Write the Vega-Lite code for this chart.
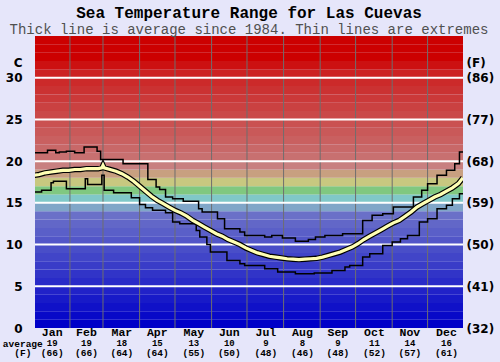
{
  "$schema": "https://vega.github.io/schema/vega-lite/v6.json",
  "autosize": "none",
  "width": 428,
  "height": 292,
  "padding": {"left": 35, "top": 36, "right": 37, "bottom": 34},
  "background": "#e6e6fa",
  "title": {
    "text": "Sea Temperature Range for Las Cuevas",
    "subtitle": "Thick line is average since 1984. Thin lines are extremes",
    "font": "Liberation Mono", "fontSize": 16, "fontWeight": "bold", "color": "#000000",
    "subtitleFont": "Liberation Mono", "subtitleFontSize": 14, "subtitleColor": "#505050",
    "anchor": "middle", "offset": -1, "subtitlePadding": 2
  },
  "config": {"view": {"stroke": null}},
  "resolve": {"axis": {"y": "independent"}},
  "datasets": {
    "bands": [
      {"lo": 0, "hi": 1}, {"lo": 1, "hi": 2}, {"lo": 2, "hi": 3}, {"lo": 3, "hi": 4}, {"lo": 4, "hi": 5},
      {"lo": 5, "hi": 6}, {"lo": 6, "hi": 7}, {"lo": 7, "hi": 8}, {"lo": 8, "hi": 9}, {"lo": 9, "hi": 10},
      {"lo": 10, "hi": 11}, {"lo": 11, "hi": 12}, {"lo": 12, "hi": 13}, {"lo": 13, "hi": 14}, {"lo": 14, "hi": 15},
      {"lo": 15, "hi": 16}, {"lo": 16, "hi": 17}, {"lo": 17, "hi": 18}, {"lo": 18, "hi": 19}, {"lo": 19, "hi": 20},
      {"lo": 20, "hi": 21}, {"lo": 21, "hi": 22}, {"lo": 22, "hi": 23}, {"lo": 23, "hi": 24}, {"lo": 24, "hi": 25},
      {"lo": 25, "hi": 26}, {"lo": 26, "hi": 27}, {"lo": 27, "hi": 28}, {"lo": 28, "hi": 29}, {"lo": 29, "hi": 30},
      {"lo": 30, "hi": 31}, {"lo": 31, "hi": 32}, {"lo": 32, "hi": 33}, {"lo": 33, "hi": 34}, {"lo": 34, "hi": 35}
    ],
    "hgrid": [{"t": 5}, {"t": 10}, {"t": 15}, {"t": 20}, {"t": 25}, {"t": 30}],
    "vgrid": [{"d": 31}, {"d": 59}, {"d": 90}, {"d": 120}, {"d": 151}, {"d": 181}, {"d": 212}, {"d": 243}, {"d": 273}, {"d": 304}, {"d": 334}],
    "avg": [
      {"d": 1, "t": 18.3}, {"d": 5, "t": 18.4}, {"d": 10, "t": 18.6}, {"d": 15, "t": 18.7}, {"d": 20, "t": 18.8},
      {"d": 25, "t": 18.9}, {"d": 30, "t": 18.9}, {"d": 35, "t": 19.0}, {"d": 40, "t": 19.0}, {"d": 45, "t": 19.1},
      {"d": 50, "t": 19.1}, {"d": 55, "t": 19.1}, {"d": 58, "t": 19.2}, {"d": 59, "t": 19.5}, {"d": 60, "t": 19.2},
      {"d": 65, "t": 19.0}, {"d": 70, "t": 18.8}, {"d": 75, "t": 18.5}, {"d": 80, "t": 18.1}, {"d": 85, "t": 17.6},
      {"d": 90, "t": 17.0}, {"d": 95, "t": 16.4}, {"d": 100, "t": 15.8}, {"d": 105, "t": 15.3}, {"d": 110, "t": 14.9},
      {"d": 115, "t": 14.5}, {"d": 120, "t": 14.1}, {"d": 125, "t": 13.8}, {"d": 130, "t": 13.4}, {"d": 135, "t": 12.9},
      {"d": 140, "t": 12.5}, {"d": 145, "t": 12.1}, {"d": 150, "t": 11.7}, {"d": 155, "t": 11.3}, {"d": 160, "t": 11.0},
      {"d": 165, "t": 10.6}, {"d": 170, "t": 10.3}, {"d": 175, "t": 10.0}, {"d": 180, "t": 9.6}, {"d": 185, "t": 9.3},
      {"d": 190, "t": 9.0}, {"d": 195, "t": 8.8}, {"d": 200, "t": 8.6}, {"d": 205, "t": 8.5}, {"d": 210, "t": 8.4},
      {"d": 215, "t": 8.3}, {"d": 220, "t": 8.25}, {"d": 225, "t": 8.2}, {"d": 230, "t": 8.25}, {"d": 235, "t": 8.3},
      {"d": 240, "t": 8.35}, {"d": 245, "t": 8.5}, {"d": 250, "t": 8.7}, {"d": 255, "t": 8.9}, {"d": 260, "t": 9.1},
      {"d": 265, "t": 9.4}, {"d": 270, "t": 9.7}, {"d": 275, "t": 10.1}, {"d": 280, "t": 10.6}, {"d": 285, "t": 11.0},
      {"d": 290, "t": 11.4}, {"d": 295, "t": 11.8}, {"d": 300, "t": 12.2}, {"d": 305, "t": 12.6}, {"d": 310, "t": 12.9},
      {"d": 315, "t": 13.4}, {"d": 320, "t": 13.9}, {"d": 325, "t": 14.5}, {"d": 330, "t": 14.9}, {"d": 335, "t": 15.3},
      {"d": 340, "t": 15.7}, {"d": 345, "t": 16.0}, {"d": 350, "t": 16.4}, {"d": 355, "t": 16.8}, {"d": 360, "t": 17.3},
      {"d": 364, "t": 18.0}
    ],
    "max": [
      {"d": 1, "t": 21.0}, {"d": 12, "t": 21.3}, {"d": 19, "t": 21.0}, {"d": 22, "t": 21.1}, {"d": 28, "t": 21.2},
      {"d": 35, "t": 21.0}, {"d": 43, "t": 21.7}, {"d": 54, "t": 21.2}, {"d": 57, "t": 20.2}, {"d": 76, "t": 19.7},
      {"d": 97, "t": 17.8}, {"d": 104, "t": 16.9}, {"d": 107, "t": 16.6}, {"d": 112, "t": 15.7}, {"d": 118, "t": 15.5},
      {"d": 127, "t": 15.2}, {"d": 140, "t": 14.3}, {"d": 143, "t": 13.9}, {"d": 156, "t": 13.1}, {"d": 162, "t": 11.9},
      {"d": 175, "t": 11.5}, {"d": 179, "t": 11.1}, {"d": 196, "t": 10.9}, {"d": 202, "t": 11.1}, {"d": 211, "t": 10.8},
      {"d": 222, "t": 10.4}, {"d": 233, "t": 10.6}, {"d": 239, "t": 10.9}, {"d": 247, "t": 11.1}, {"d": 262, "t": 11.3},
      {"d": 279, "t": 12.9}, {"d": 287, "t": 13.5}, {"d": 296, "t": 13.7}, {"d": 305, "t": 14.5}, {"d": 322, "t": 15.7},
      {"d": 329, "t": 16.5}, {"d": 334, "t": 17.3}, {"d": 342, "t": 18.3}, {"d": 350, "t": 18.9}, {"d": 357, "t": 19.7},
      {"d": 361, "t": 21.1}, {"d": 364, "t": 21.1}
    ],
    "min": [
      {"d": 1, "t": 16.3}, {"d": 7, "t": 16.5}, {"d": 15, "t": 17.4}, {"d": 17, "t": 17.6}, {"d": 28, "t": 16.7},
      {"d": 44, "t": 17.9}, {"d": 46, "t": 17.2}, {"d": 58, "t": 18.3}, {"d": 60, "t": 16.5}, {"d": 68, "t": 16.2},
      {"d": 83, "t": 15.6}, {"d": 90, "t": 14.8}, {"d": 95, "t": 14.4}, {"d": 101, "t": 14.1}, {"d": 112, "t": 13.8},
      {"d": 118, "t": 12.7}, {"d": 124, "t": 12.5}, {"d": 138, "t": 11.7}, {"d": 141, "t": 10.9}, {"d": 147, "t": 10.0},
      {"d": 150, "t": 9.1}, {"d": 164, "t": 8.1}, {"d": 175, "t": 7.7}, {"d": 179, "t": 7.5}, {"d": 196, "t": 7.1},
      {"d": 207, "t": 6.7}, {"d": 222, "t": 6.5}, {"d": 238, "t": 6.6}, {"d": 253, "t": 6.9}, {"d": 264, "t": 7.3},
      {"d": 268, "t": 7.5}, {"d": 279, "t": 8.5}, {"d": 285, "t": 8.9}, {"d": 296, "t": 9.9}, {"d": 304, "t": 10.3},
      {"d": 311, "t": 10.7}, {"d": 317, "t": 11.1}, {"d": 327, "t": 12.7}, {"d": 334, "t": 13.1}, {"d": 342, "t": 14.3},
      {"d": 350, "t": 14.7}, {"d": 355, "t": 15.5}, {"d": 361, "t": 16.1}, {"d": 364, "t": 16.1}
    ],
    "months": [
      {"month": "Jan", "mid": 16, "c": 19, "f": 66}, {"month": "Feb", "mid": 45, "c": 19, "f": 66},
      {"month": "Mar", "mid": 75, "c": 18, "f": 64}, {"month": "Apr", "mid": 105, "c": 15, "f": 64},
      {"month": "May", "mid": 136, "c": 13, "f": 55}, {"month": "Jun", "mid": 166, "c": 10, "f": 50},
      {"month": "Jul", "mid": 197, "c": 9, "f": 48}, {"month": "Aug", "mid": 228, "c": 8, "f": 46},
      {"month": "Sep", "mid": 258, "c": 9, "f": 48}, {"month": "Oct", "mid": 289, "c": 11, "f": 52},
      {"month": "Nov", "mid": 319, "c": 14, "f": 57}, {"month": "Dec", "mid": 350, "c": 16, "f": 61}
    ]
  },
  "layer": [
    {
      "data": {"name": "bands"},
      "mark": {"type": "rect", "strokeWidth": 0},
      "encoding": {
        "x": {"datum": 1.4, "type": "quantitative", "scale": {"domain": [1.4, 364], "nice": false, "zero": false},
          "axis": {"title": ["average", "(F)"], "labels": false, "ticks": false, "domain": false, "grid": false,
            "titleFont": "Liberation Mono", "titleFontSize": 9.5, "titleFontWeight": "bold", "titleColor": "#000000",
            "titleX": -12.7, "titleY": 18.4, "titleAlign": "center", "titleBaseline": "alphabetic", "titleLineHeight": 9.6}},
        "x2": {"datum": 364},
        "y": {"field": "lo", "type": "quantitative", "scale": {"domain": [0, 35], "nice": false, "zero": false},
          "axis": {"orient": "left", "values": [0, 5, 10, 15, 20, 25, 30], "title": "C", "titleAngle": 0,
            "titleAlign": "right", "titleBaseline": "middle", "titleX": -13, "titleY": 26,
            "titleFont": "DejaVu Sans", "titleFontSize": 12, "titleFontWeight": "bold", "titleColor": "#000000",
            "labelFont": "DejaVu Sans", "labelFontSize": 12, "labelFontWeight": "bold", "labelColor": "#000000",
            "ticks": false, "tickSize": 0, "domain": false, "grid": false, "labelPadding": 13}},
        "y2": {"field": "hi"},
        "color": {"field": "lo", "type": "quantitative", "legend": null,
          "scale": {"type": "linear", "interpolate": "rgb",
            "domain": [0, 13, 14, 15, 16, 17, 18, 19, 20, 30, 32, 34],
            "range": ["#0000c8", "#6a70c8", "#80a6c8", "#80c8c8", "#80c880", "#c8c880", "#c8a080", "#c88080", "#c87070", "#cc2222", "#cc0000", "#cc0000"]}}
      }
    },
    {
      "data": {"name": "vgrid"},
      "mark": {"type": "rule", "color": "#6e6e6e", "strokeWidth": 1},
      "encoding": {"x": {"field": "d", "type": "quantitative"}}
    },
    {
      "data": {"name": "hgrid"},
      "mark": {"type": "rule", "color": "#ffffff", "strokeWidth": 2},
      "encoding": {
        "y": {"field": "t", "type": "quantitative",
          "axis": {"orient": "right", "values": [0, 5, 10, 15, 20, 25, 30],
            "labelExpr": "'(' + round(datum.value * 9 / 5 + 32) + ')'",
            "title": "(F)", "titleAngle": 0, "titleAlign": "left", "titleBaseline": "middle", "titleX": 3, "titleY": 26,
            "titleFont": "DejaVu Sans", "titleFontSize": 12, "titleFontWeight": "bold", "titleColor": "#000000",
            "labelFont": "DejaVu Sans", "labelFontSize": 12, "labelFontWeight": "bold", "labelColor": "#000000",
            "ticks": false, "tickSize": 0, "domain": false, "grid": false, "labelPadding": 3}}
      }
    },
    {
      "data": {"name": "max"},
      "mark": {"type": "line", "color": "#000000", "strokeWidth": 1.5, "interpolate": "step-after", "clip": true},
      "encoding": {"x": {"field": "d", "type": "quantitative"}, "y": {"field": "t", "type": "quantitative", "axis": null}}
    },
    {
      "data": {"name": "min"},
      "mark": {"type": "line", "color": "#000000", "strokeWidth": 1.5, "interpolate": "step-after", "clip": true},
      "encoding": {"x": {"field": "d", "type": "quantitative"}, "y": {"field": "t", "type": "quantitative", "axis": null}}
    },
    {
      "data": {"name": "avg"},
      "mark": {"type": "line", "color": "#000000", "strokeWidth": 5.5, "clip": true},
      "encoding": {"x": {"field": "d", "type": "quantitative"}, "y": {"field": "t", "type": "quantitative", "axis": null}}
    },
    {
      "data": {"name": "avg"},
      "mark": {"type": "line", "color": "#ffffb4", "strokeWidth": 3.2, "clip": true},
      "encoding": {"x": {"field": "d", "type": "quantitative"}, "y": {"field": "t", "type": "quantitative", "axis": null}}
    },
    {
      "data": {"name": "months"},
      "mark": {"type": "text", "font": "Liberation Mono", "fontSize": 11.5, "fontWeight": "bold", "color": "#000000", "baseline": "alphabetic", "dy": 8.3},
      "encoding": {"x": {"field": "mid", "type": "quantitative"}, "y": {"datum": 0, "type": "quantitative", "axis": null}, "text": {"field": "month"}}
    },
    {
      "data": {"name": "months"},
      "mark": {"type": "text", "font": "Liberation Mono", "fontSize": 9, "fontWeight": "bold", "color": "#000000", "baseline": "alphabetic", "dy": 18.4},
      "encoding": {"x": {"field": "mid", "type": "quantitative"}, "y": {"datum": 0, "type": "quantitative", "axis": null}, "text": {"field": "c"}}
    },
    {
      "data": {"name": "months"},
      "transform": [{"calculate": "'(' + datum.f + ')'", "as": "flabel"}],
      "mark": {"type": "text", "font": "Liberation Mono", "fontSize": 9.5, "fontWeight": "bold", "color": "#000000", "baseline": "alphabetic", "dy": 28},
      "encoding": {"x": {"field": "mid", "type": "quantitative"}, "y": {"datum": 0, "type": "quantitative", "axis": null}, "text": {"field": "flabel"}}
    }
  ]
}
